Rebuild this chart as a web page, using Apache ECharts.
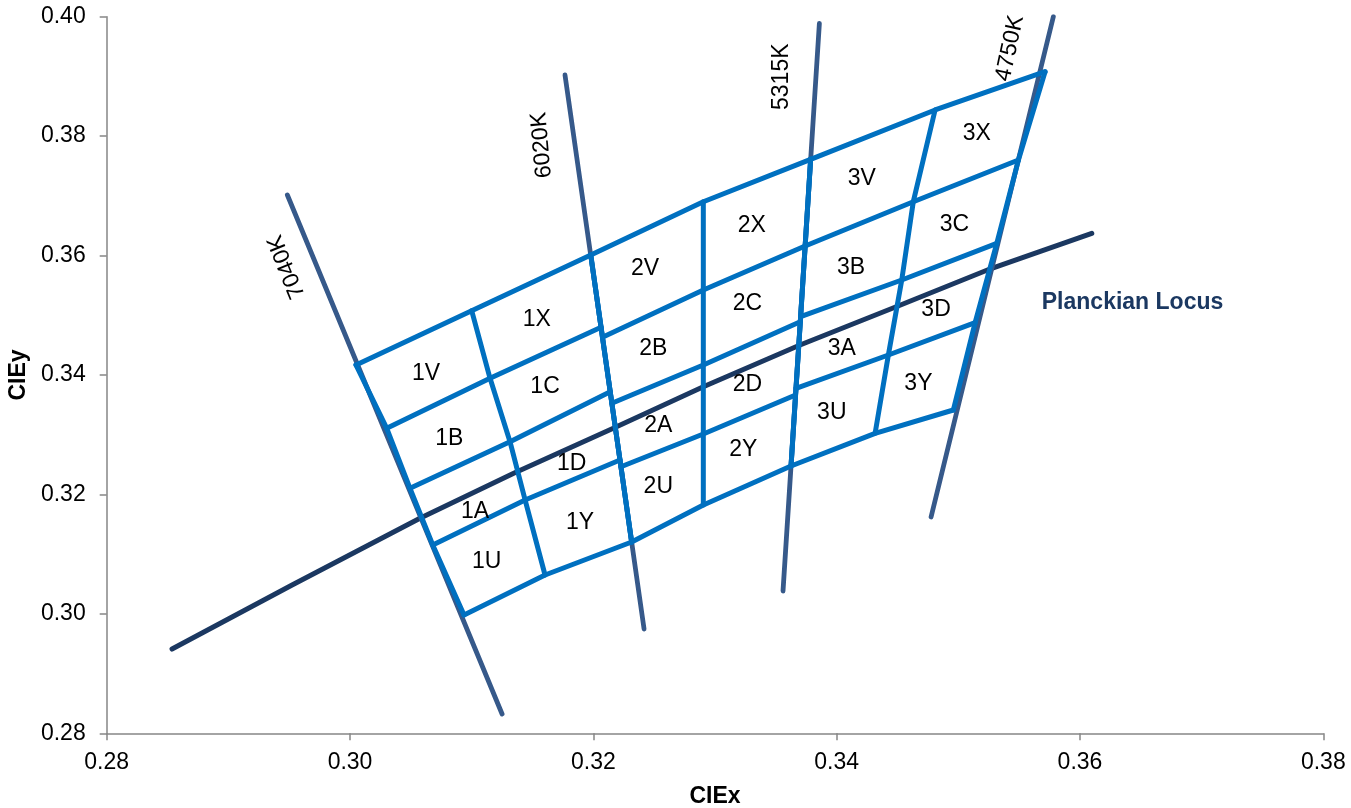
<!DOCTYPE html>
<html>
<head>
<meta charset="utf-8">
<script src="https://cdn.jsdelivr.net/npm/echarts@6/dist/echarts.min.js"></script>
<style>
  html, body { margin: 0; padding: 0; background: #fff; overflow: hidden; }
  #chart { width: 1351px; height: 808px; }
</style>
</head>
<body>
<div id="chart"></div>
<script>
// Axis ranges and ticks (CIE 1931 x, y)
const xTicks = [0.28, 0.30, 0.32, 0.34, 0.36, 0.38];
const yTicks = [0.28, 0.30, 0.32, 0.34, 0.36, 0.38, 0.40];

// Planckian locus
const planckLocus = [
  [0.28537, 0.29411], [0.29520, 0.30480], [0.30575, 0.31600], [0.31350, 0.32360],
  [0.32164, 0.33107], [0.32904, 0.33804], [0.33699, 0.34502], [0.34510, 0.35160],
  [0.35275, 0.35787], [0.36097, 0.36373]
];

// Isotherm (CCT) lines
const isotherm7040K = [[0.29485, 0.37014], [0.31250, 0.28323]];
const isotherm6020K = [[0.31767, 0.39024], [0.32417, 0.29746]];
const isotherm5315K = [[0.33858, 0.39889], [0.33559, 0.30383]];
const isotherm4750K = [[0.35781, 0.40000], [0.34776, 0.31622]];

// Bin group edges, each listed top to bottom at the five row boundaries
const group1Left  = [[0.30049, 0.34167], [0.30302, 0.33107], [0.30493, 0.32103], [0.30680, 0.31153], [0.30937, 0.29981]];
const group1Mid   = [[0.31000, 0.35077], [0.31151, 0.33945], [0.31315, 0.32883], [0.31439, 0.31907], [0.31603, 0.30651]];
const group1Right = [[0.31979, 0.36009], [0.32064, 0.34799], [0.32139, 0.33720], [0.32219, 0.32576], [0.32315, 0.31203]];

const group2Left  = [[0.31979, 0.36009], [0.32075, 0.34631], [0.32152, 0.33526], [0.32227, 0.32464], [0.32315, 0.31203]];
const group2Mid   = [[0.32904, 0.36902], [0.32904, 0.35423], [0.32904, 0.34167], [0.32904, 0.33012], [0.32904, 0.31823]];
const group2Right = [[0.33786, 0.37612], [0.33741, 0.36160], [0.33701, 0.34892], [0.33662, 0.33665], [0.33625, 0.32476]];

const group3Left  = [[0.33786, 0.37612], [0.33741, 0.36160], [0.33704, 0.34976], [0.33666, 0.33777], [0.33625, 0.32476]];
const group3Mid   = [[0.34809, 0.38438], [0.34630, 0.36902], [0.34535, 0.35591], [0.34425, 0.34335], [0.34316, 0.33023]];
const group3Right = [[0.35713, 0.39079], [0.35494, 0.37600], [0.35316, 0.36205], [0.35138, 0.34876], [0.34959, 0.33414]];

// Bin names and their label positions
const binNames = ['1V','1X','1B','1C','1A','1D','1U','1Y',
                  '2V','2X','2B','2C','2A','2D','2U','2Y',
                  '3V','3X','3B','3C','3A','3D','3U','3Y'];
const binCenters = [
  [0.30625, 0.34028], [0.31535, 0.34933], [0.30816, 0.32940], [0.31603, 0.33804],
  [0.31028, 0.31711], [0.31822, 0.32521], [0.31124, 0.30873], [0.31891, 0.31526],
  [0.32425, 0.35787], [0.33302, 0.36495], [0.32493, 0.34447], [0.33266, 0.35189],
  [0.32534, 0.33146], [0.33266, 0.33832], [0.32534, 0.32129], [0.33233, 0.32756],
  [0.34206, 0.37294], [0.35152, 0.38047], [0.34118, 0.35803], [0.34968, 0.36523],
  [0.34042, 0.34447], [0.34817, 0.35088], [0.33960, 0.33369], [0.34672, 0.33861]
];

// CCT labels along the isotherms
const cctNames = ['7040K', '6020K', '5315K', '4750K'];
const cctLabelPos = [[0.29480, 0.35813], [0.31576, 0.37851], [0.33549, 0.38995], [0.35425, 0.39471]];
const cctLabelAngle = [112, 95, 90, 78];

const locusName = 'Planckian Locus';
const locusLabelPos = [0.35686, 0.35206];

const FONT = "'Liberation Sans', Arial, Helvetica, sans-serif";
const BIN_COLOR = '#0070C0';
const ISO_COLOR = '#36598A';
const LOCUS_COLOR = '#1B3861';

function lineSeries(points, color, width, z) {
  return {
    type: 'line',
    data: points,
    symbol: 'none',
    silent: true,
    z: z,
    lineStyle: { color: color, width: width, cap: 'round', join: 'round' }
  };
}

const series = [];
series.push(lineSeries(planckLocus, LOCUS_COLOR, 5, 2));
[isotherm7040K, isotherm6020K, isotherm5315K, isotherm4750K].forEach(l => series.push(lineSeries(l, ISO_COLOR, 4.8, 3)));

// Each bin group: three vertical edges plus five row boundaries
[[group1Left, group1Mid, group1Right],
 [group2Left, group2Mid, group2Right],
 [group3Left, group3Mid, group3Right]].forEach(cols => {
  cols.forEach(col => series.push(lineSeries(col, BIN_COLOR, 5, 4)));
  for (let r = 0; r < 5; r++) {
    series.push(lineSeries(cols.map(c => c[r]), BIN_COLOR, 5, 4));
  }
});

const textBase = {
  show: true, formatter: '{b}', fontFamily: FONT,
  textBorderWidth: 0, textShadowBlur: 0, opacity: 1
};

// Bin labels
series.push({
  type: 'scatter',
  symbolSize: 0,
  silent: true,
  z: 5,
  itemStyle: { color: '#000' },
  data: binCenters.map((p, i) => ({ name: binNames[i], value: p })),
  label: Object.assign({}, textBase, { position: 'inside', color: '#000', fontSize: 23 })
});

// CCT labels
series.push({
  type: 'scatter',
  symbolSize: 0,
  silent: true,
  z: 5,
  itemStyle: { color: '#000' },
  data: cctLabelPos.map((p, i) => ({
    name: cctNames[i], value: p,
    label: { rotate: cctLabelAngle[i] }
  })),
  label: Object.assign({}, textBase, { position: 'inside', color: '#000', fontSize: 23 })
});

// Locus label
series.push({
  type: 'scatter',
  symbolSize: 0,
  silent: true,
  z: 5,
  itemStyle: { color: LOCUS_COLOR },
  data: [{ name: locusName, value: locusLabelPos }],
  label: Object.assign({}, textBase, {
    position: 'right', distance: 0, color: LOCUS_COLOR, fontSize: 23, fontWeight: 'bold'
  })
});

const axisCommon = {
  type: 'value',
  interval: 0.02,
  splitLine: { show: false },
  axisLine: { show: true, lineStyle: { color: '#868686', width: 1.5 } },
  axisTick: { show: true, inside: false, length: 7, lineStyle: { color: '#868686', width: 1.5 } },
  nameLocation: 'middle',
  nameTextStyle: { color: '#000', fontFamily: FONT, fontSize: 23, fontWeight: 'bold' }
};

const chart = echarts.init(document.getElementById('chart'), null, { renderer: 'canvas' });
chart.setOption({
  animation: false,
  backgroundColor: '#ffffff',
  grid: {
    left: 106.7, right: 27.7, top: 16.7, bottom: 74.7,
    containLabel: false, outerBoundsMode: 'none'
  },
  xAxis: Object.assign({}, axisCommon, {
    min: xTicks[0], max: xTicks[xTicks.length - 1],
    name: 'CIEx', nameGap: 52,
    axisLabel: { margin: 18, color: '#000', fontFamily: FONT, fontSize: 23, formatter: v => v.toFixed(2) }
  }),
  yAxis: Object.assign({}, axisCommon, {
    min: yTicks[0], max: yTicks[yTicks.length - 1],
    name: 'CIEy', nameGap: 77,
    axisLabel: { margin: 21, color: '#000', fontFamily: FONT, fontSize: 23, formatter: v => v.toFixed(2) }
  }),
  series: series
});
</script>
</body>
</html>
